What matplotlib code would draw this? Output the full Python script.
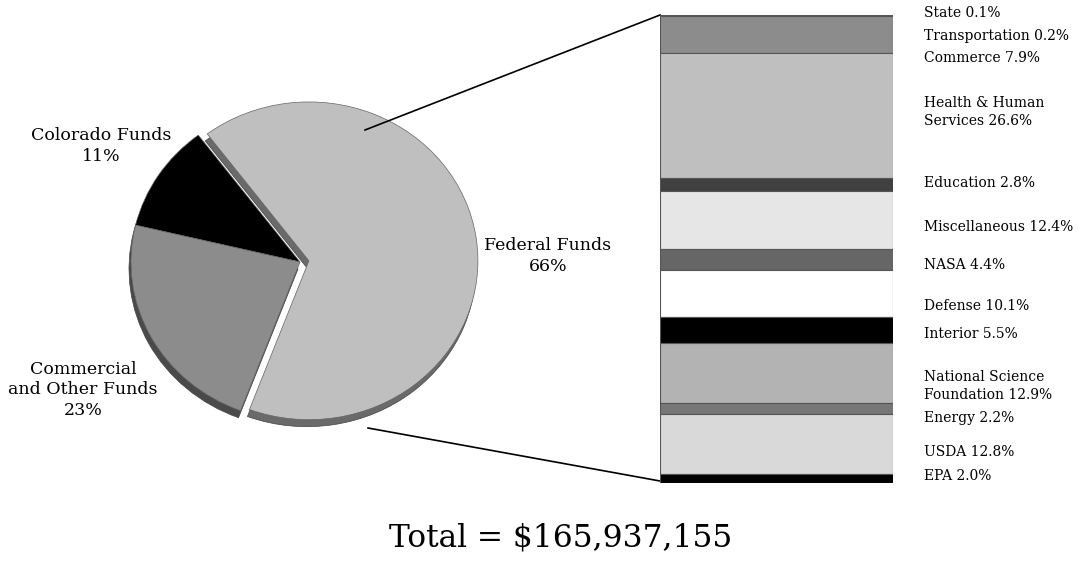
import matplotlib.pyplot as plt

# Data
fund_labels = ['Colorado Funds\n11%', 'Commercial\nand Other Funds\n23%',
               'Federal Funds\n66%']
fund_shares = [11, 23, 66]
fund_colors = ['#000000', '#8c8c8c', '#bfbfbf']
fund_side_colors = ['#000000', '#4a4a4a', '#6a6a6a']

agencies = ['State', 'Transportation', 'Commerce', 'Health & Human\nServices',
            'Education', 'Miscellaneous', 'NASA', 'Defense', 'Interior',
            'National Science\nFoundation', 'Energy', 'USDA', 'EPA']
agency_shares = [0.1, 0.2, 7.9, 26.6, 2.8, 12.4, 4.4, 10.1, 5.5, 12.9, 2.2,
                 12.8, 2.0]
agency_colors = ['#000000', '#222222', '#8c8c8c', '#bfbfbf', '#404040',
                 '#e6e6e6', '#666666', '#ffffff', '#000000', '#b3b3b3',
                 '#777777', '#d9d9d9', '#000000']

total_text = 'Total = $165,937,155'

# Layout (pixels of a 1081x561 canvas)
W, H = 1081, 561
YS = 0.94                      # vertical squash of the tilted pie
pie_cx, pie_cy, pie_r = 300, 262, 169
label_y = [13, 36, 58, 112, 183, 227, 265, 306, 334, 386, 418, 452, 476]
font = 'DejaVu Serif'


def fx(x):
    return x / W


def fy(y):
    return 1 - y / H


fig = plt.figure(figsize=(W / 100, H / 100), dpi=100)

# Pie axis in pixel units, y squashed
ax = fig.add_axes([0, 0, 1, 1])
explode = [0, 0, 9]            # in pixels
common = dict(startangle=127, counterclock=True, explode=explode,
              radius=pie_r)
# side walls (a darker copy shifted down)
ax.pie(fund_shares, colors=fund_side_colors,
       center=(pie_cx - 2, (H - pie_cy - 7) / YS),
       wedgeprops=dict(edgecolor='#444444', linewidth=0.5), **common)
ax.pie(fund_shares, colors=fund_colors,
       center=(pie_cx, (H - pie_cy) / YS),
       wedgeprops=dict(edgecolor='#666666', linewidth=0.5), **common)
ax.set_aspect('auto')
ax.set_xlim(0, W)
ax.set_ylim(0, H / YS)
ax.axis('off')

# connector lines to the bar
ax.plot([365, 660], [(H - 130) / YS, (H - 15) / YS], color='black', lw=1.2)
ax.plot([368, 660], [(H - 428) / YS, (H - 481) / YS], color='black', lw=1.2)

# pie labels
fig.text(fx(101), fy(146), fund_labels[0], ha='center', va='center',
         family=font, fontsize=12.5, linespacing=1.3)
fig.text(fx(83), fy(390), fund_labels[1], ha='center', va='center',
         family=font, fontsize=12.5, linespacing=1.3)
fig.text(fx(548), fy(256), fund_labels[2], ha='center', va='center',
         family=font, fontsize=12.5, linespacing=1.3)

# Stacked bar of federal agencies
bx = fig.add_axes([fx(660), fy(483), (893 - 660) / W, (483 - 15) / H])
bottom = 0
for share, color in zip(agency_shares, agency_colors):
    bx.bar(0, share, bottom=bottom, width=1, color=color,
           edgecolor='#555555', linewidth=0.8)
    bottom += share
bx.set_xlim(-0.5, 0.5)
bx.set_ylim(sum(agency_shares), 0)
bx.axis('off')

for name, share, y in zip(agencies, agency_shares, label_y):
    fig.text(fx(924), fy(y), f'{name} {share:.1f}%', ha='left', va='center',
             family=font, fontsize=10, linespacing=1.3)

fig.text(fx(561), fy(538), total_text, ha='center', va='center', family=font,
         fontsize=22.5)

fig.savefig('out.png', dpi=100, facecolor='white')
